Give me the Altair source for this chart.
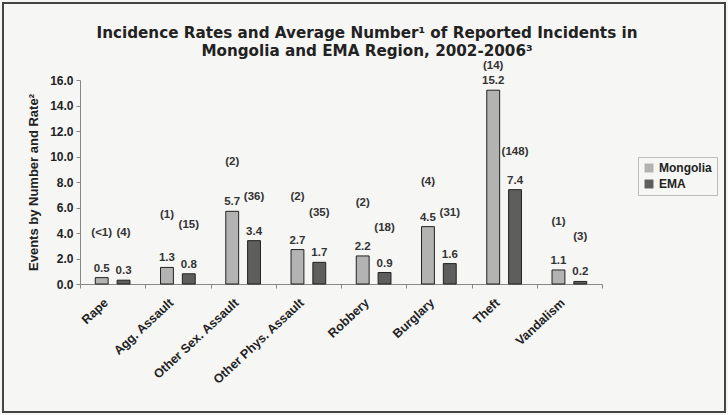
import altair as alt
import pandas as pd

categories = ["Rape", "Agg. Assault", "Other Sex. Assault", "Other Phys. Assault",
              "Robbery", "Burglary", "Theft", "Vandalism"]
mongolia_rate = [0.5, 1.3, 5.7, 2.7, 2.2, 4.5, 15.2, 1.1]
ema_rate = [0.3, 0.8, 3.4, 1.7, 0.9, 1.6, 7.4, 0.2]
mongolia_count = ["(<1)", "(1)", "(2)", "(2)", "(2)", "(4)", "(14)", "(1)"]
ema_count = ["(4)", "(15)", "(36)", "(35)", "(18)", "(31)", "(148)", "(3)"]
# heights (in rate units) at which the count labels sit in the original
mongolia_count_at = [4.0, 5.4, 9.6, 6.8, 6.35, 8.0, 17.1, 4.9]
ema_count_at = [4.0, 4.6, 6.8, 5.6, 4.4, 5.6, 10.35, 3.7]
series = ["Mongolia", "EMA"]
y_ticks = [0, 2, 4, 6, 8, 10, 12, 14, 16]
title_lines = ["Incidence Rates and Average Number¹ of Reported Incidents in",
               "Mongolia and EMA Region, 2002-2006³"]

rows = []
for i, c in enumerate(categories):
    rows.append(dict(cat=c, series="Mongolia", rate=mongolia_rate[i],
                     count=mongolia_count[i], count_at=mongolia_count_at[i]))
    rows.append(dict(cat=c, series="EMA", rate=ema_rate[i],
                     count=ema_count[i], count_at=ema_count_at[i]))
df = pd.DataFrame(rows)

FONT = "Liberation Sans"

x = alt.X("cat:N", sort=categories,
          scale=alt.Scale(paddingInner=0, paddingOuter=0),
          axis=alt.Axis(title=None, labelAngle=-43, labelAlign="right",
                        labelBaseline="top", labelFont=FONT, labelFontWeight="bold",
                        labelFontSize=12.5, labelColor="#222", tickBand="extent",
                        tickSize=4, tickColor="#888", domainColor="#888",
                        labelPadding=8, labelOffset=-11, labelOverlap=False))
xoff = alt.XOffset("series:N", sort=series,
                   scale=alt.Scale(paddingInner=0.41, paddingOuter=0.7))
yscale = alt.Scale(domain=[0, 16])
yaxis = alt.Axis(title="Events by Number and Rate²", values=y_ticks,
                 format=".1f", grid=False, labelFont=FONT,
                 labelFontWeight="bold", labelFontSize=12, labelColor="#222",
                 labelOverlap=False, labelPadding=3,
                 titleFont=FONT, titleFontWeight="bold", titleFontSize=13,
                 titleColor="#222", titlePadding=9, tickSize=4,
                 tickColor="#888", domainColor="#888")

base = alt.Chart(df)

bars = base.mark_bar(stroke="#222", strokeWidth=1).encode(
    x=x, xOffset=xoff,
    y=alt.Y("rate:Q", scale=yscale, axis=yaxis),
    color=alt.Color("series:N", sort=series,
                    scale=alt.Scale(domain=series, range=["#b3b3b3", "#5e5e5e"]),
                    legend=alt.Legend(title=None, orient="none", legendX=558,
                                      legendY=77, symbolType="square",
                                      symbolSize=80, symbolStrokeWidth=0,
                                      labelFont=FONT, labelFontWeight="bold",
                                      labelFontSize=12, labelColor="#222",
                                      strokeColor="#bbb", padding=5,
                                      rowPadding=4)),
)

vals = base.mark_text(font=FONT, fontWeight="bold", fontSize=11.5, color="#333",
                      baseline="alphabetic", dy=-6).encode(
    x=x, xOffset=xoff, y=alt.Y("rate:Q", scale=yscale, axis=yaxis),
    text=alt.Text("rate:Q", format=".1f"))

counts = base.mark_text(font=FONT, fontWeight="bold", fontSize=11.5, color="#333",
                        baseline="middle").encode(
    x=x, xOffset=xoff, y=alt.Y("count_at:Q", scale=yscale, axis=yaxis),
    text="count:N")

one = pd.DataFrame({"a": [0]})

frame = alt.Chart(one).mark_rect(
    fill=None, stroke="#444", strokeWidth=2).encode(
    x=alt.value(-77), x2=alt.value(645), y=alt.value(-77), y2=alt.value(332))

title = alt.Chart(one).mark_text(
    text=title_lines, font="DejaVu Sans", fontSize=15.2, fontWeight="bold",
    color="#222", align="center", baseline="middle", lineHeight=18).encode(
    x=alt.value(287), y=alt.value(-47))

chart = alt.layer(bars, vals, counts, frame, title).resolve_scale(y="shared").properties(
    width=522, height=204,
    autosize=alt.AutoSizeParams(type="none"),
    padding={"left": 80, "top": 80, "right": 126, "bottom": 131},
).configure(background="#f6f6f4").configure_view(stroke=None)

chart.save("out.html", embed_options={"renderer": "svg", "actions": False})
